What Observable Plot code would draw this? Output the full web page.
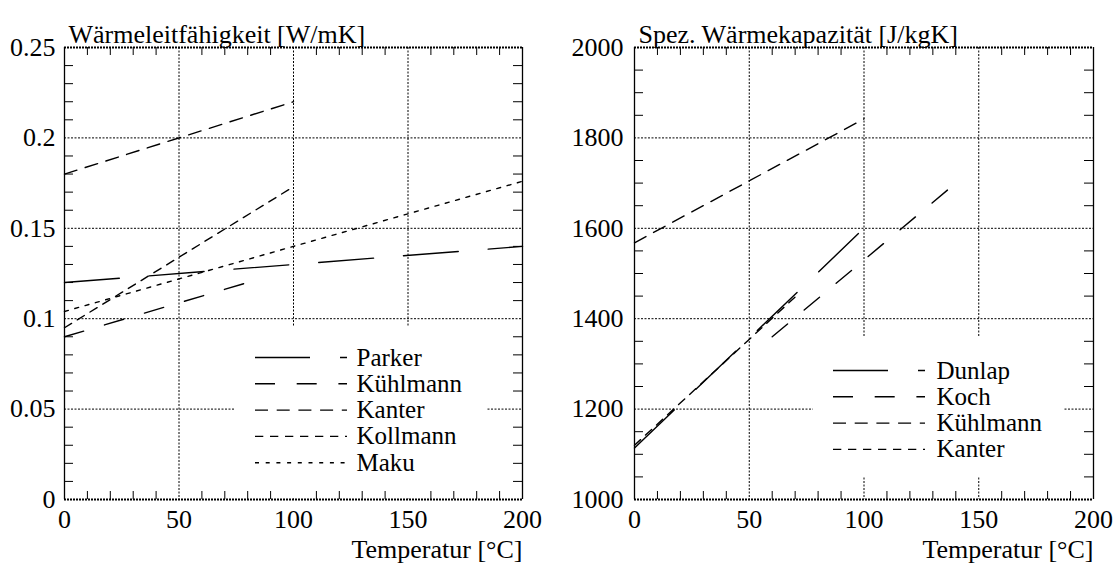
<!DOCTYPE html>
<html><head><meta charset="utf-8">
<script src="https://cdn.jsdelivr.net/npm/d3@7"></script>
<script src="https://cdn.jsdelivr.net/npm/@observablehq/plot@0.6"></script>
<style>
body{margin:0;background:#fff;}
#wrap{position:relative;width:1119px;height:570px;overflow:hidden;}
#wrap svg{position:absolute;top:0;}
#wrap svg text{font-family:'Liberation Serif','DejaVu Serif','Noto Serif','Times New Roman',Times,serif !important;}
</style></head><body><div id="wrap"></div>
<script>
// ---------- data ----------
const xTicks = [0, 50, 100, 150, 200];
const xMinorTicks = [10,20,30,40,60,70,80,90,110,120,130,140,160,170,180,190];

// Wärmeleitfähigkeit [W/mK]  (start/end of each straight relation)
const lambdaNames  = ["Parker", "Kühlmann", "Kanter", "Kollmann", "Maku"];
const lambdaTStart = [0, 0, 0, 0, 0];
const lambdaTEnd   = [200, 80, 100, 100, 200];
const lambdaStart  = [0.12, 0.09, 0.18, 0.095, 0.104];
const lambdaEnd    = [0.14, 0.12, 0.22, 0.173, 0.176];
const lambdaTicks  = [0, 0.05, 0.1, 0.15, 0.2, 0.25];
const lambdaMinor  = [0.01,0.02,0.03,0.04,0.06,0.07,0.08,0.09,0.11,0.12,0.13,0.14,0.16,0.17,0.18,0.19,0.21,0.22,0.23,0.24];

// Spez. Wärmekapazität [J/kgK]
const cpNames  = ["Dunlap", "Koch", "Kühlmann", "Kanter"];
const cpTStart = [0, 60, 0, 0];
const cpTEnd   = [100, 140, 100, 70];
const cpStart  = [1114, 1360, 1568, 1120];
const cpEnd    = [1600, 1700, 1842, 1448];
const cpTicks  = [1000, 1200, 1400, 1600, 1800, 2000];
const cpMinor  = [1050,1100,1150,1250,1300,1350,1450,1500,1550,1650,1700,1750,1850,1900,1950];

// ---------- styles ----------
const dashStyles = ["55,30", "20,21.7", "13,8.7", "8.3,6.7", "4,6.7"];
const FONT = "'Liberation Serif', 'DejaVu Serif', 'Noto Serif', 'Times New Roman', Times, serif";
const FS = 26, LFS = 25;

function panel(cfg) {
  const H = 570, mt = 47, mb = 71;
  const fw = cfg.width - cfg.ml - cfg.mr, fh = H - mt - mb;
  const [ya, yb] = cfg.yDomain;
  const pxX = px => px / fw * 200;
  const pxY = py => yb - py / fh * (yb - ya);
  const tickX = 9 * 200 / fw, tickY = 8 * (yb - ya) / fh;

  const marks = [];
  marks.push(Plot.ruleX([50, 100, 150], {stroke: "#000", strokeWidth: 1, strokeDasharray: "2,1.5"}));
  marks.push(Plot.ruleY(cfg.yTicks.slice(1, -1), {stroke: "#000", strokeWidth: 1, strokeDasharray: "2,1.5"}));
  const L = cfg.legend;
  marks.push(Plot.rect([0], {x1: () => pxX(L.box[0]), x2: () => pxX(L.box[1]), y1: () => pxY(L.box[2]), y2: () => pxY(L.box[3]), fill: "white"}));
  marks.push(Plot.ruleY([ya, yb], {stroke: "#000", strokeWidth: 1.8, strokeDasharray: "2,1"}));
  marks.push(Plot.ruleX([0, 200], {stroke: "#000", strokeWidth: 1.3}));
  marks.push(Plot.ruleX(xMinorTicks, {x: d => d, y1: ya, y2: ya + tickY, stroke: "#000", strokeWidth: 1}));
  marks.push(Plot.ruleX(xMinorTicks, {x: d => d, y1: yb, y2: yb - tickY, stroke: "#000", strokeWidth: 1}));
  marks.push(Plot.ruleY(cfg.yMinor, {y: d => d, x1: 0, x2: tickX, stroke: "#000", strokeWidth: 1}));
  marks.push(Plot.ruleY(cfg.yMinor, {y: d => d, x1: 200, x2: 200 - tickX, stroke: "#000", strokeWidth: 1}));
  cfg.names.forEach((n, i) => {
    const seg = [{t: cfg.t0[i], v: cfg.v0[i]}, {t: cfg.t1[i], v: cfg.v1[i]}];
    marks.push(Plot.line(seg, {x: "t", y: "v", stroke: "#000", strokeWidth: 1.4, strokeDasharray: dashStyles[i]}));
  });
  cfg.names.forEach((n, i) => {
    const ry = L.row0 + i * L.step;
    marks.push(Plot.ruleY([0], {y: () => pxY(ry), x1: () => pxX(L.x0), x2: () => pxX(L.x0 + 92), stroke: "#000", strokeWidth: 1.4, strokeDasharray: dashStyles[i]}));
    marks.push(Plot.text([n], {x: () => pxX(L.tx), y: () => pxY(ry), text: d => d, textAnchor: "start", fontSize: LFS, fontFamily: FONT, fill: "#000"}));
  });
  marks.push(Plot.axisX({ticks: xTicks, tickSize: 0, tickPadding: 10, fontSize: FS, fontFamily: FONT, label: null}));
  marks.push(Plot.axisY({ticks: cfg.yTicks, tickSize: 0, tickPadding: cfg.yPad, fontSize: FS, fontFamily: FONT, label: null, tickFormat: cfg.yFormat}));
  marks.push(Plot.text([cfg.title], {frameAnchor: "top-left", dx: 4, dy: -23, textAnchor: "start", fontSize: FS, fontFamily: FONT, fill: "#000"}));
  marks.push(Plot.text(["Temperatur [°C]"], {frameAnchor: "bottom-right", dx: 0, dy: 58.5, textAnchor: "end", fontSize: FS, fontFamily: FONT, fill: "#000"}));

  const svg = Plot.plot({
    width: cfg.width, height: H,
    marginLeft: cfg.ml, marginRight: cfg.mr, marginTop: mt, marginBottom: mb,
    x: {domain: [0, 200]},
    y: {domain: cfg.yDomain},
    style: {background: "transparent", overflow: "visible"},
    marks
  });
  svg.setAttribute("font-family", FONT);
  svg.setAttribute("font-size", String(FS));
  svg.style.left = cfg.left + "px";
  return svg;
}

const wrap = document.getElementById("wrap");
wrap.appendChild(panel({
  left: 0, width: 560, ml: 64, mr: 38, yPad: 9,
  names: lambdaNames, t0: lambdaTStart, t1: lambdaTEnd, v0: lambdaStart, v1: lambdaEnd,
  yDomain: [0, 0.25], yTicks: lambdaTicks, yMinor: lambdaMinor, yFormat: d => String(d),
  title: "Wärmeleitfähigkeit [W/mK]",
  legend: {box: [171, 423, 280, 450], x0: 191, tx: 292, row0: 310, step: 26.3}
}));
wrap.appendChild(panel({
  left: 560, width: 559, ml: 74, mr: 26, yPad: 11,
  names: cpNames, t0: cpTStart, t1: cpTEnd, v0: cpStart, v1: cpEnd,
  yDomain: [1000, 2000], yTicks: cpTicks, yMinor: cpMinor, yFormat: d => String(d),
  title: "Spez. Wärmekapazität [J/kgK]",
  legend: {box: [179, 429, 289, 430], x0: 199, tx: 302, row0: 323, step: 26.3}
}));
</script></body></html>
